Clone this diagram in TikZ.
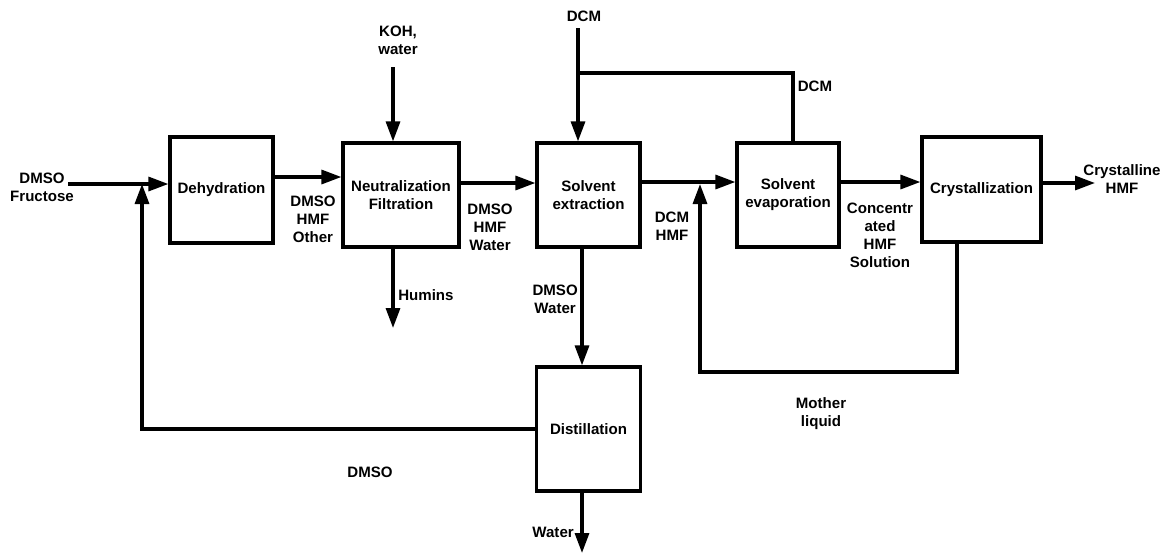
\documentclass[tikz,border=0pt]{standalone}
\usepackage{fontspec}
\setmainfont{Liberation Sans}
\usetikzlibrary{arrows.meta}

\begin{document}
\begin{tikzpicture}[x=.75pt,y=-.75pt,font=\fontsize{11.3}{13.5}\selectfont\bfseries,
  unit/.style={draw,line width=2.4pt,inner sep=0pt,align=center},
  flow/.style={line width=2.4pt},
  feed/.style={flow,-{Triangle[length=15pt,width=10.5pt]}},
  lbl/.style={align=center,inner sep=0pt}]
  \useasboundingbox (0,0) rectangle (1162,554);
  \node[unit,minimum width=77.25pt,minimum height=79.5pt] (dehyd) at (221.5,190) {Dehydration};
  \node[unit,minimum width=87pt,minimum height=78pt] (neut) at (401,195) {Neutralization\\Filtration};
  \node[unit,minimum width=77.25pt,minimum height=78pt] (extr) at (588.5,195) {Solvent\\extraction};
  \node[unit,minimum width=76.5pt,minimum height=78pt] (evap) at (788,195) {Solvent\\evaporation};
  \node[unit,minimum width=89.25pt,minimum height=78.75pt] (cryst) at (981.5,189.5) {Crystallization};
  \node[unit,minimum width=78pt,minimum height=93pt] (dist) at (588.5,429) {Distillation};

  \coordinate (feedin) at (68,184);
  \coordinate (dmsoin) at (142,184);
  \coordinate (kohin) at (393,67);
  \coordinate (humout) at (393,328);
  \coordinate (dcmin) at (578,28);
  \coordinate (dcmjoin) at (578,73);
  \coordinate (mljoin) at (700,184);
  \coordinate (mlbend) at (957,372);
  \coordinate (hmfout) at (1095,183);
  \coordinate (waterout) at (582,553);

  \draw[feed] (feedin) -- (feedin -| dehyd.west);
  \draw[feed] (dist.west) -| (dmsoin);
  \draw[feed] (dehyd.east |- 0,177) -- (neut.west |- 0,177);
  \draw[feed] (kohin) -- (kohin |- neut.north);
  \draw[feed] (kohin |- neut.south) -- (humout);
  \draw[feed] (neut.east |- 0,183) -- (extr.west |- 0,183);
  \draw[feed] (dcmin) -- (dcmin |- extr.north);
  \draw[flow] (evap.north -| 793,0) |- (dcmjoin);
  \draw[feed] (extr.east |- 0,182) -- (evap.west |- 0,182);
  \draw[feed] (extr.south -| 582,0) -- (dist.north -| 582,0);
  \draw[feed] (dist.south -| 582,0) -- (waterout);
  \draw[feed] (evap.east |- 0,182) -- (cryst.west |- 0,182);
  \draw[feed] (cryst.east |- 0,183) -- (hmfout);
  \draw[feed] (cryst.south -| mlbend) -- (mlbend) -| (mljoin);

  \node[lbl] (fdlbl) at (42,187) {DMSO\\Fructose};
  \node[lbl] (dhlbl) at (313,219) {DMSO\\HMF\\Other};
  \node[lbl] (kohlbl) at (398,40) {KOH,\\water};
  \node[lbl,anchor=west] (humlbl) at (398,295) {Humins};
  \node[lbl] (nflbl) at (490,227) {DMSO\\HMF\\Water};
  \node[lbl] (dcmlbl) at (584,16) {DCM};
  \node[lbl] (dcmrec) at (815,86) {DCM};
  \node[lbl] (selbl) at (672,226) {DCM\\HMF};
  \node[lbl] (evlbl) at (880,235) {Concentr\\ated\\HMF\\Solution};
  \node[lbl] (outlbl) at (1122,179) {Crystalline\\HMF};
  \node[lbl] (mllbl) at (821,414) {Mother\\liquid};
  \node[lbl,anchor=east] (dwlbl) at (578,299) {DMSO\\Water};
  \node[lbl] (dmsolbl) at (370,472) {DMSO};
  \node[lbl,anchor=east] (wlbl) at (574,532) {Water};
\end{tikzpicture}
\end{document}
